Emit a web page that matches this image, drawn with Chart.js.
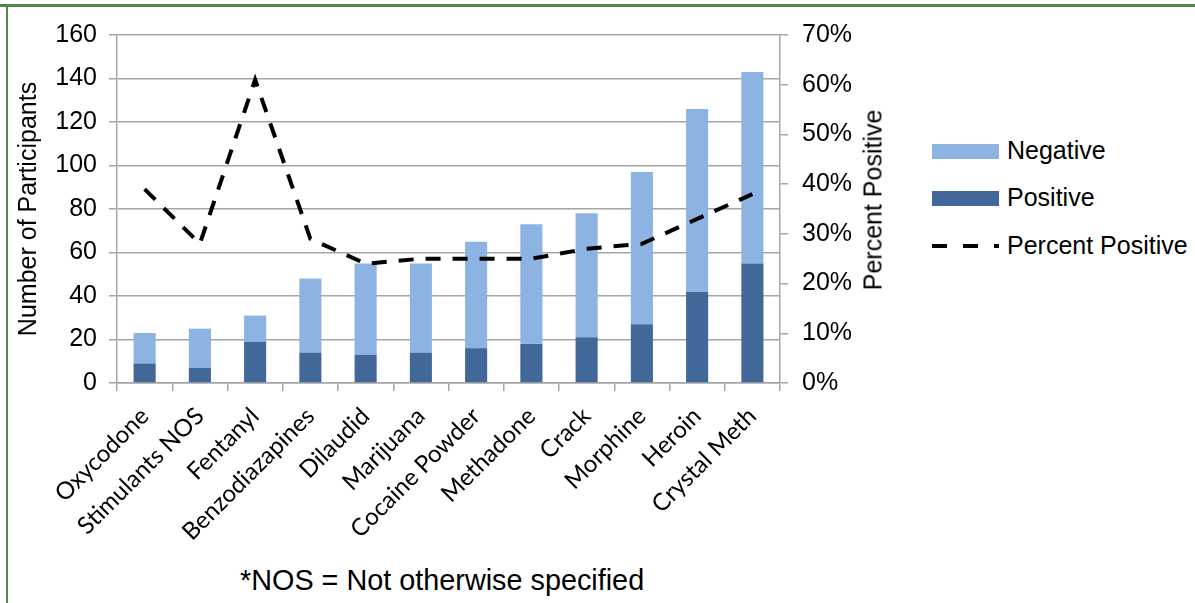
<!DOCTYPE html>
<html>
<head>
<meta charset="utf-8">
<script src="https://cdn.jsdelivr.net/npm/chart.js@4.4.0/dist/chart.umd.min.js"></script>
<style>
    body { margin: 0; width: 1195px; height: 603px; background: #fff; position: relative; overflow: hidden;
           font-family: 'Liberation Sans', Arial, sans-serif; color: #000; }
    #wrap { position: absolute; left: 0; top: 0; width: 900px; height: 560px; }
    .frame-top { position: absolute; left: 0; top: 4px; width: 1195px; height: 3px; background: #4b8c41; }
    .frame-left { position: absolute; left: 6px; top: 6px; width: 2px; height: 597px; background: #4b8c41; }
    .right-title { position: absolute; left: 873px; top: 200px; transform: translate(-50%, -50%) rotate(-90deg);
                   font-size: 25px; white-space: nowrap; }
    .legend { position: absolute; left: 932px; top: 0; font-size: 25px; }
    .legend .item { position: absolute; left: 0; height: 30px; white-space: nowrap; }
    .legend .swatch { position: absolute; left: 0; width: 67px; height: 15px; }
    .legend .label { position: absolute; left: 75px; line-height: 30px; top: 0; }
    .note { position: absolute; left: 240px; top: 564px; font-size: 28.8px; white-space: nowrap; }
</style>
</head>
<body>
<div id="wrap"><canvas id="chart"></canvas></div>
<div class="frame-top"></div>
<div class="frame-left"></div>
<div class="right-title">Percent Positive</div>
<div class="legend">
    <div class="item" style="top:135px"><div class="swatch" style="top:9px;background:#8db3e2"></div><div class="label">Negative</div></div>
    <div class="item" style="top:182px"><div class="swatch" style="top:9px;background:#416898"></div><div class="label">Positive</div></div>
    <div class="item" style="top:230px">
        <svg class="swatch" style="top:0;height:30px" width="68" height="30"><line x1="0" y1="16" x2="68" y2="16" stroke="#000" stroke-width="4" stroke-dasharray="15,16"/></svg>
        <div class="label">Percent Positive</div>
    </div>
</div>
<div class="note">*NOS = Not otherwise specified</div>

<script>
// Datos
const categories = ['Oxycodone', 'Stimulants NOS', 'Fentanyl', 'Benzodiazapines', 'Dilaudid', 'Marijuana',
    'Cocaine Powder', 'Methadone', 'Crack', 'Morphine', 'Heroin', 'Crystal Meth'];
const positive = [9, 7, 19, 14, 13, 14, 16, 18, 21, 27, 42, 55];
const negative = [14, 18, 12, 34, 42, 41, 49, 55, 57, 70, 84, 88];
const percentPositive = [39, 28, 61, 29, 24, 25, 25, 25, 27, 28, 33, 38];

const GRID = '#a6a6a6';
const AXIS_FONT = { family: "'Liberation Sans', Arial, sans-serif", size: 25 };

new Chart(document.getElementById('chart').getContext('2d'), {
    data: {
        labels: categories,
        datasets: [
            {
                type: 'line',
                label: 'Percent Positive',
                data: percentPositive,
                yAxisID: 'y1',
                borderColor: '#000',
                borderWidth: 4,
                borderDash: [15, 12],
                pointRadius: 0,
                tension: 0,
                fill: false,
                order: 0
            },
            {
                type: 'bar',
                label: 'Positive',
                data: positive,
                backgroundColor: '#416898',
                yAxisID: 'y',
                order: 1,
                categoryPercentage: 0.8,
                barPercentage: 0.5
            },
            {
                type: 'bar',
                label: 'Negative',
                data: negative,
                backgroundColor: '#8db3e2',
                yAxisID: 'y',
                order: 1,
                categoryPercentage: 0.8,
                barPercentage: 0.5
            }
        ]
    },
    options: {
        responsive: true,
        maintainAspectRatio: false,
        animation: false,
        layout: { padding: { top: 35, left: 0, right: 0, bottom: 0 } },
        plugins: {
            legend: { display: false },
            tooltip: { enabled: false }
        },
        scales: {
            x: {
                stacked: true,
                offset: true,
                grid: { offset: true, drawOnChartArea: false, tickLength: 8, color: GRID, lineWidth: 1.5 },
                border: { color: GRID, width: 1.5 },
                ticks: {
                    autoSkip: false, minRotation: 45, maxRotation: 45, padding: 11, color: '#000',
                    font: { family: 'Lato', size: 24 }
                },
                afterFit: (scale) => { scale.height = 560 - 383; }
            },
            y: {
                stacked: true,
                min: 0,
                max: 160,
                ticks: { stepSize: 20, padding: 12, color: '#000', font: AXIS_FONT },
                grid: { color: GRID, lineWidth: 1.5, tickLength: 8 },
                border: { color: GRID, width: 1.5 },
                title: {
                    display: true,
                    text: 'Number of Participants',
                    color: '#000',
                    font: AXIS_FONT,
                    padding: { top: 14, bottom: 0 }
                },
                afterFit: (scale) => { scale.width = 117; }
            },
            y1: {
                position: 'right',
                min: 0,
                max: 70,
                ticks: { stepSize: 10, padding: 14, color: '#000', font: AXIS_FONT, callback: (v) => v + '%' },
                grid: { drawOnChartArea: false, color: GRID, lineWidth: 1.5, tickLength: 8 },
                border: { color: GRID, width: 1.5 },
                afterFit: (scale) => { scale.width = 900 - 780; }
            }
        }
    }
});
</script>
</body>
</html>
